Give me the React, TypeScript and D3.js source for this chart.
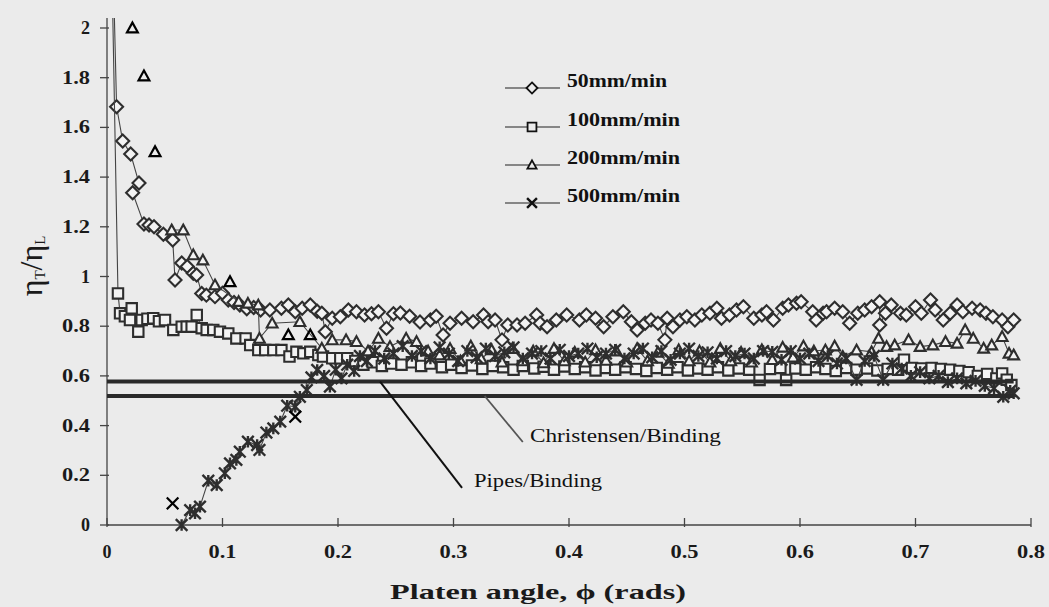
import { useEffect, useRef } from 'react';
import * as d3 from 'd3';

const W = 1049;
const H = 607;

const xTicks = [0, 0.1, 0.2, 0.3, 0.4, 0.5, 0.6, 0.7, 0.8];
const xTickLabels = ['0', '0.1', '0.2', '0.3', '0.4', '0.5', '0.6', '0.7', '0.8'];
const yTicks = [0, 0.2, 0.4, 0.6, 0.8, 1, 1.2, 1.4, 1.6, 1.8, 2];
const yTickLabels = ['0', '0.2', '0.4', '0.6', '0.8', '1', '1.2', '1.4', '1.6', '1.8', '2'];

const seriesNames = ['50mm/min', '100mm/min', '200mm/min', '500mm/min'];

// 50mm/min - diamonds
const rate50: [number, number][] = [
  [0.0045, 2.4], [0.0083, 1.683], [0.0136, 1.545], [0.0205, 1.493], [0.0277, 1.376], [0.0222, 1.337],
  [0.032, 1.211], [0.0364, 1.207], [0.0407, 1.2], [0.0488, 1.17], [0.0569, 1.147], [0.0589, 0.986],
  [0.0647, 1.054], [0.0695, 1.04], [0.0747, 1.013], [0.0776, 1.006], [0.082, 0.932], [0.086, 0.925],
  [0.0935, 0.919], [0.1, 0.933], [0.105, 0.905], [0.11, 0.895], [0.115, 0.885], [0.121, 0.87],
  [0.127, 0.875], [0.133, 0.865], [0.141, 0.865], [0.151, 0.872], [0.157, 0.885], [0.163, 0.858],
  [0.169, 0.872], [0.176, 0.885], [0.182, 0.86], [0.186, 0.852], [0.189, 0.778], [0.195, 0.832],
  [0.202, 0.838], [0.209, 0.865], [0.216, 0.858], [0.223, 0.845], [0.229, 0.85], [0.235, 0.858],
  [0.242, 0.792], [0.248, 0.85], [0.254, 0.853], [0.262, 0.84], [0.271, 0.817], [0.28, 0.825],
  [0.285, 0.84], [0.291, 0.765], [0.297, 0.812], [0.307, 0.832], [0.317, 0.818], [0.326, 0.845],
  [0.33, 0.818], [0.336, 0.825], [0.342, 0.745], [0.347, 0.805], [0.355, 0.805], [0.362, 0.812],
  [0.372, 0.845], [0.375, 0.812], [0.381, 0.798], [0.389, 0.825], [0.398, 0.845], [0.409, 0.825],
  [0.415, 0.845], [0.423, 0.832], [0.43, 0.798], [0.438, 0.838], [0.447, 0.858], [0.454, 0.818],
  [0.459, 0.785], [0.466, 0.812], [0.471, 0.825], [0.477, 0.812], [0.483, 0.745], [0.485, 0.832],
  [0.49, 0.798], [0.496, 0.825], [0.502, 0.838], [0.509, 0.825], [0.515, 0.845], [0.522, 0.852],
  [0.528, 0.872], [0.532, 0.832], [0.539, 0.845], [0.545, 0.865], [0.551, 0.878], [0.56, 0.832],
  [0.567, 0.845], [0.571, 0.858], [0.577, 0.825], [0.585, 0.872], [0.59, 0.885], [0.597, 0.892],
  [0.601, 0.898], [0.611, 0.858], [0.614, 0.825], [0.62, 0.852], [0.623, 0.858], [0.63, 0.872],
  [0.637, 0.858], [0.643, 0.812], [0.65, 0.852], [0.656, 0.865], [0.662, 0.878], [0.669, 0.898],
  [0.669, 0.805], [0.674, 0.852], [0.679, 0.885], [0.687, 0.852], [0.692, 0.845], [0.7, 0.878],
  [0.705, 0.852], [0.713, 0.905], [0.717, 0.865], [0.724, 0.825], [0.73, 0.852], [0.736, 0.885],
  [0.741, 0.858], [0.749, 0.872], [0.756, 0.865], [0.761, 0.852], [0.767, 0.838], [0.775, 0.825],
  [0.78, 0.798], [0.785, 0.825],
];

// 100mm/min - squares
const rate100: [number, number][] = [
  [0.004, 2.3], [0.0095, 0.932], [0.0113, 0.852], [0.0155, 0.84], [0.0199, 0.825], [0.0214, 0.872],
  [0.0271, 0.778], [0.03, 0.825], [0.035, 0.83], [0.04, 0.832], [0.045, 0.82], [0.0502, 0.825],
  [0.0574, 0.785], [0.0647, 0.798], [0.069, 0.798], [0.0733, 0.798], [0.0777, 0.845], [0.082, 0.792],
  [0.0863, 0.785], [0.092, 0.785], [0.0978, 0.778], [0.105, 0.771], [0.112, 0.751], [0.12, 0.751],
  [0.124, 0.724], [0.131, 0.704], [0.137, 0.704], [0.144, 0.704], [0.151, 0.704], [0.158, 0.678],
  [0.164, 0.697], [0.17, 0.691], [0.176, 0.697], [0.183, 0.684], [0.187, 0.678], [0.195, 0.671],
  [0.202, 0.671], [0.208, 0.671], [0.215, 0.66], [0.222, 0.645], [0.23, 0.655], [0.238, 0.64],
  [0.246, 0.65], [0.255, 0.645], [0.264, 0.655], [0.272, 0.64], [0.28, 0.65], [0.29, 0.635],
  [0.298, 0.645], [0.307, 0.632], [0.316, 0.642], [0.325, 0.628], [0.334, 0.64], [0.343, 0.635],
  [0.352, 0.625], [0.36, 0.64], [0.37, 0.63], [0.378, 0.637], [0.387, 0.625], [0.396, 0.638],
  [0.405, 0.628], [0.414, 0.635], [0.423, 0.622], [0.432, 0.632], [0.44, 0.625], [0.449, 0.635],
  [0.458, 0.628], [0.467, 0.62], [0.476, 0.632], [0.485, 0.625], [0.494, 0.635], [0.503, 0.622],
  [0.512, 0.63], [0.52, 0.625], [0.529, 0.635], [0.538, 0.622], [0.547, 0.63], [0.556, 0.625],
  [0.565, 0.584], [0.574, 0.628], [0.583, 0.632], [0.588, 0.584], [0.596, 0.63], [0.605, 0.625],
  [0.614, 0.635], [0.622, 0.628], [0.631, 0.62], [0.64, 0.632], [0.649, 0.625], [0.658, 0.63],
  [0.667, 0.622], [0.676, 0.628], [0.685, 0.625], [0.69, 0.665], [0.697, 0.632], [0.705, 0.63],
  [0.714, 0.632], [0.722, 0.628], [0.73, 0.625], [0.738, 0.62], [0.746, 0.615], [0.754, 0.6],
  [0.762, 0.608], [0.77, 0.59], [0.775, 0.61], [0.779, 0.585], [0.783, 0.563],
];

// 200mm/min - triangles
const rate200: [number, number][] = [
  [0.056, 1.187], [0.066, 1.187], [0.0747, 1.087], [0.083, 1.066], [0.0935, 0.966], [0.114, 0.899],
  [0.122, 0.892], [0.131, 0.885], [0.132, 0.751], [0.143, 0.812], [0.167, 0.818], [0.186, 0.711],
  [0.195, 0.745], [0.207, 0.745], [0.216, 0.738], [0.226, 0.7], [0.235, 0.751], [0.245, 0.718],
  [0.259, 0.751], [0.268, 0.738], [0.278, 0.7], [0.288, 0.684], [0.297, 0.71], [0.306, 0.66],
  [0.315, 0.72], [0.324, 0.668], [0.333, 0.705], [0.342, 0.655], [0.351, 0.71], [0.36, 0.66],
  [0.369, 0.7], [0.378, 0.652], [0.387, 0.71], [0.396, 0.66], [0.405, 0.695], [0.414, 0.655],
  [0.423, 0.705], [0.432, 0.662], [0.441, 0.7], [0.45, 0.655], [0.459, 0.71], [0.468, 0.66],
  [0.477, 0.695], [0.486, 0.65], [0.495, 0.705], [0.504, 0.66], [0.513, 0.7], [0.522, 0.655],
  [0.531, 0.71], [0.54, 0.66], [0.549, 0.695], [0.558, 0.655], [0.567, 0.705], [0.576, 0.665],
  [0.585, 0.715], [0.594, 0.675], [0.603, 0.72], [0.612, 0.7], [0.622, 0.704], [0.63, 0.72],
  [0.637, 0.678], [0.649, 0.704], [0.662, 0.697], [0.668, 0.751], [0.675, 0.718], [0.682, 0.724],
  [0.694, 0.745], [0.704, 0.718], [0.715, 0.724], [0.726, 0.738], [0.736, 0.731], [0.743, 0.785],
  [0.75, 0.751], [0.759, 0.711], [0.766, 0.724], [0.775, 0.758], [0.781, 0.691], [0.785, 0.684],
];

// 500mm/min - crosses
const rate500: [number, number][] = [
  [0.0646, 0.0], [0.072, 0.06], [0.0762, 0.047], [0.0805, 0.074], [0.0877, 0.178], [0.095, 0.161],
  [0.102, 0.208], [0.1065, 0.248], [0.112, 0.262], [0.115, 0.295], [0.122, 0.335], [0.13, 0.322],
  [0.132, 0.302], [0.138, 0.372], [0.144, 0.389], [0.15, 0.416], [0.156, 0.48], [0.163, 0.476],
  [0.167, 0.516], [0.173, 0.543], [0.177, 0.594], [0.182, 0.624], [0.188, 0.6], [0.193, 0.557],
  [0.198, 0.625], [0.203, 0.59], [0.208, 0.645], [0.214, 0.62], [0.219, 0.68], [0.225, 0.66],
  [0.232, 0.7], [0.24, 0.67], [0.248, 0.69], [0.256, 0.72], [0.264, 0.68], [0.272, 0.7],
  [0.28, 0.67], [0.288, 0.715], [0.296, 0.69], [0.304, 0.66], [0.312, 0.7], [0.32, 0.675],
  [0.328, 0.71], [0.336, 0.68], [0.344, 0.695], [0.352, 0.715], [0.36, 0.67], [0.368, 0.69],
  [0.376, 0.7], [0.384, 0.67], [0.392, 0.705], [0.4, 0.68], [0.408, 0.69], [0.416, 0.71],
  [0.424, 0.675], [0.432, 0.69], [0.44, 0.705], [0.448, 0.67], [0.456, 0.69], [0.464, 0.71],
  [0.472, 0.675], [0.48, 0.7], [0.488, 0.665], [0.496, 0.69], [0.504, 0.71], [0.512, 0.68],
  [0.52, 0.695], [0.528, 0.67], [0.536, 0.7], [0.544, 0.68], [0.552, 0.69], [0.56, 0.67],
  [0.568, 0.7], [0.576, 0.697], [0.584, 0.665], [0.592, 0.7], [0.6, 0.67], [0.608, 0.69],
  [0.616, 0.66], [0.624, 0.68], [0.632, 0.65], [0.64, 0.67], [0.649, 0.584], [0.656, 0.66],
  [0.664, 0.68], [0.672, 0.584], [0.68, 0.65], [0.688, 0.63], [0.696, 0.6], [0.704, 0.615],
  [0.712, 0.59], [0.72, 0.6], [0.728, 0.575], [0.736, 0.59], [0.744, 0.57], [0.752, 0.58],
  [0.76, 0.56], [0.768, 0.55], [0.776, 0.516], [0.782, 0.54], [0.785, 0.53],
];

// unjoined points printed in black
const stray200: [number, number][] = [
  [0.022, 2.0], [0.032, 1.807], [0.0416, 1.502], [0.1065, 0.979], [0.157, 0.765], [0.176, 0.765],
];
const stray500: [number, number][] = [[0.0568, 0.087], [0.163, 0.436]];

const theoryNames = ['Pipes/Binding', 'Christensen/Binding'];
const theoryValues = [0.577, 0.519];
const theorySpan = [0, 0.785];

const FONT = '"Liberation Serif", "Times New Roman", "DejaVu Serif", serif';
const BG = '#ebebeb';
const INK = '#2e2e2e';

type Shape = 'diamond' | 'square' | 'triangle' | 'star' | 'cross';

function markerPath(shape: Shape, cx: number, cy: number, s = 1) {
  if (shape === 'diamond') {
    const r = 6.5 * s;
    return `M${cx},${cy - r}L${cx + r},${cy}L${cx},${cy + r}L${cx - r},${cy}Z`;
  }
  if (shape === 'square') {
    const r = 5.2 * s;
    return `M${cx - r},${cy - r}H${cx + r}V${cy + r}H${cx - r}Z`;
  }
  if (shape === 'triangle') {
    const r = 5.4 * s;
    return `M${cx},${cy - r}L${cx + r},${cy + r * 0.8}L${cx - r},${cy + r * 0.8}Z`;
  }
  const r = 5.8 * s;
  let p = `M${cx - r},${cy - r}L${cx + r},${cy + r}M${cx + r},${cy - r}L${cx - r},${cy + r}`;
  if (shape === 'star') p += `M${cx},${cy - r}V${cy + r}`;
  return p;
}

export default function App() {
  const ref = useRef<SVGSVGElement | null>(null);

  useEffect(() => {
    if (!ref.current) return;
    const svg = d3.select(ref.current);
    svg.selectAll('*').remove();
    svg.style('font-family', FONT);

    const x = d3.scaleLinear().domain([0, 0.8]).range([107, 1031]);
    const y = d3.scaleLinear().domain([0, 2]).range([525, 28]);

    svg.append('rect').attr('width', W).attr('height', H).attr('fill', BG);

    svg.append('defs').append('clipPath').attr('id', 'plot-clip')
      .append('rect').attr('x', 100).attr('y', 18).attr('width', 945).attr('height', 515);

    // axes
    const axes = svg.append('g').attr('stroke', '#444').attr('stroke-width', 1.3);
    axes.append('line').attr('x1', x(0)).attr('x2', x(0)).attr('y1', 18).attr('y2', y(0));
    axes.append('line').attr('x1', x(0)).attr('x2', x(0.8)).attr('y1', y(0)).attr('y2', y(0));
    axes.selectAll('.yt').data(yTicks).enter().append('line')
      .attr('x1', x(0) - 7).attr('x2', x(0) + 2)
      .attr('y1', d => y(d)).attr('y2', d => y(d));
    axes.selectAll('.xt').data(xTicks).enter().append('line')
      .attr('x1', d => x(d)).attr('x2', d => x(d))
      .attr('y1', y(0) - 7).attr('y2', y(0) + 2);

    svg.selectAll('.ylab').data(yTicks).enter().append('text')
      .attr('x', 90).attr('y', d => y(d) + 6)
      .attr('text-anchor', 'end')
      .attr('font-size', 18).attr('font-weight', 'bold').attr('fill', '#1a1a1a')
      .attr('textLength', (d, i) => (yTickLabels[i].length > 1 ? 28 : null) as any)
      .attr('lengthAdjust', 'spacingAndGlyphs')
      .text((d, i) => yTickLabels[i]);

    svg.selectAll('.xlab').data(xTicks).enter().append('text')
      .attr('x', d => x(d)).attr('y', 558)
      .attr('text-anchor', 'middle')
      .attr('font-size', 18).attr('font-weight', 'bold').attr('fill', '#1a1a1a')
      .attr('textLength', (d, i) => (xTickLabels[i].length > 1 ? 28 : null) as any)
      .attr('lengthAdjust', 'spacingAndGlyphs')
      .text((d, i) => xTickLabels[i]);

    svg.append('text')
      .attr('x', 390).attr('y', 599)
      .attr('font-size', 21).attr('font-weight', 'bold').attr('fill', '#1a1a1a')
      .attr('textLength', 296).attr('lengthAdjust', 'spacingAndGlyphs')
      .text('Platen angle, \u03d5  (rads)');

    const yl = svg.append('text')
      .attr('transform', 'translate(42,266) rotate(-90)')
      .attr('text-anchor', 'middle')
      .attr('font-size', 32).attr('fill', '#1a1a1a');
    yl.append('tspan').text('\u03b7');
    yl.append('tspan').attr('font-size', 15).attr('dy', 3).text('T');
    yl.append('tspan').attr('dy', -3).text('/\u03b7');
    yl.append('tspan').attr('font-size', 15).attr('dy', 3).text('L');

    // data
    const plot = svg.append('g').attr('clip-path', 'url(#plot-clip)');
    const line = d3.line<[number, number]>().x(d => x(d[0])).y(d => y(d[1]));
    const series: { data: [number, number][]; shape: Shape }[] = [
      { data: rate50, shape: 'diamond' },
      { data: rate100, shape: 'square' },
      { data: rate200, shape: 'triangle' },
      { data: rate500, shape: 'star' },
    ];
    series.forEach(s => {
      plot.append('path').attr('d', line(s.data))
        .attr('fill', 'none').attr('stroke', '#444').attr('stroke-width', 1.1);
      plot.selectAll(null).data(s.data).enter().append('path')
        .attr('d', d => markerPath(s.shape, x(d[0]), y(d[1])))
        .attr('fill', s.shape === 'star' ? 'none' : '#f3f3f3')
        .attr('stroke', INK).attr('stroke-width', s.shape === 'star' ? 2.4 : 2.1);
    });

    plot.selectAll(null).data(stray200).enter().append('path')
      .attr('d', d => markerPath('triangle', x(d[0]), y(d[1])))
      .attr('fill', 'none').attr('stroke', '#000').attr('stroke-width', 2.2);
    plot.selectAll(null).data(stray500).enter().append('path')
      .attr('d', d => markerPath('cross', x(d[0]), y(d[1])))
      .attr('fill', 'none').attr('stroke', '#000').attr('stroke-width', 2.2);

    // theory lines
    theoryValues.forEach(v => {
      svg.append('line')
        .attr('x1', x(theorySpan[0])).attr('x2', x(theorySpan[1]))
        .attr('y1', y(v)).attr('y2', y(v))
        .attr('stroke', '#2a2a2a').attr('stroke-width', 4);
    });

    // annotations
    svg.append('line')
      .attr('x1', x(0.2364)).attr('y1', y(theoryValues[0]))
      .attr('x2', x(0.3074)).attr('y2', y(0.149))
      .attr('stroke', '#111').attr('stroke-width', 2);
    svg.append('text').attr('x', 474).attr('y', 487)
      .attr('font-size', 19).attr('fill', '#111')
      .attr('textLength', 128).attr('lengthAdjust', 'spacingAndGlyphs')
      .text(theoryNames[0]);

    svg.append('line')
      .attr('x1', x(0.327)).attr('y1', y(theoryValues[1]))
      .attr('x2', x(0.36)).attr('y2', y(0.334))
      .attr('stroke', '#555').attr('stroke-width', 1.8);
    svg.append('text').attr('x', 530).attr('y', 442)
      .attr('font-size', 19).attr('fill', '#111')
      .attr('textLength', 191).attr('lengthAdjust', 'spacingAndGlyphs')
      .text(theoryNames[1]);

    // legend
    const shapes: Shape[] = ['diamond', 'square', 'triangle', 'cross'];
    const rowY = [88, 127, 165, 203];
    const widths = [100, 113, 113, 113];
    seriesNames.forEach((name, i) => {
      const g = svg.append('g');
      g.append('line').attr('x1', 505).attr('x2', 560).attr('y1', rowY[i]).attr('y2', rowY[i])
        .attr('stroke', '#222').attr('stroke-width', 1.2);
      g.append('path').attr('d', markerPath(shapes[i], 532, rowY[i], 0.85))
        .attr('fill', shapes[i] === 'cross' ? 'none' : BG)
        .attr('stroke', '#111').attr('stroke-width', shapes[i] === 'cross' ? 2.4 : 1.8);
      g.append('text').attr('x', 567).attr('y', rowY[i] - 1)
        .attr('font-size', 19).attr('font-weight', 'bold').attr('fill', '#111')
        .attr('textLength', widths[i]).attr('lengthAdjust', 'spacingAndGlyphs')
        .text(name);
    });
  }, []);

  return (
    <svg ref={ref} width={W} height={H} style={{ position: 'absolute', left: 0, top: 0 }} />
  );
}
